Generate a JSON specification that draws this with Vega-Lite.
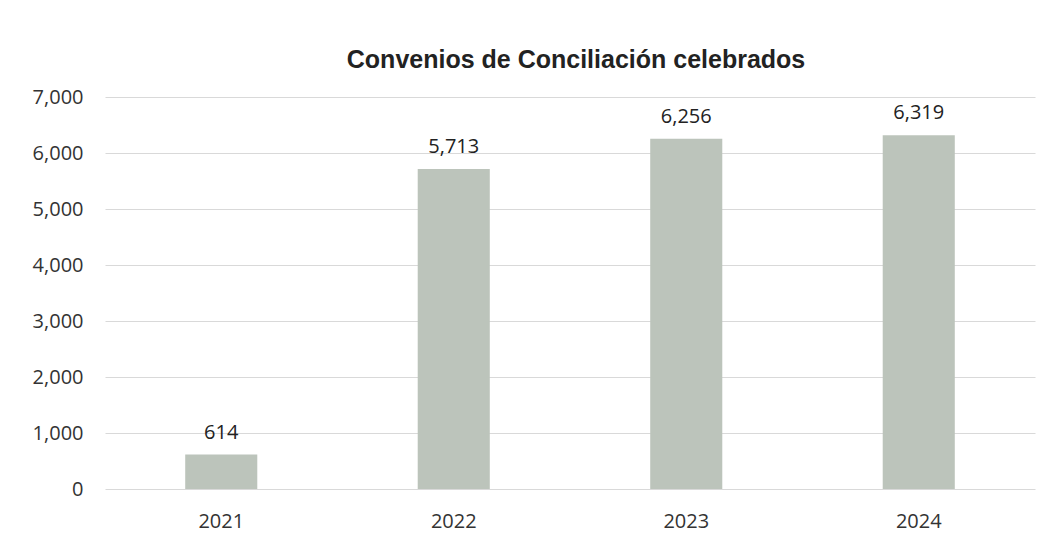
{
  "$schema": "https://vega.github.io/schema/vega-lite/v6.json",
  "autosize": {"type": "none"},
  "padding": {"left": 105, "top": 97, "right": 18, "bottom": 54},
  "width": 930,
  "height": 392,
  "background": "white",
  "title": {
    "text": "Convenios de Conciliación celebrados",
    "font": "Liberation Sans",
    "fontSize": 25,
    "fontWeight": "bold",
    "color": "#222222",
    "offset": 14,
    "anchor": "middle",
    "dx": 6
  },
  "data": {
    "values": [
      {"year": "2021", "value": 614},
      {"year": "2022", "value": 5713},
      {"year": "2023", "value": 6256},
      {"year": "2024", "value": 6319}
    ]
  },
  "encoding": {
    "x": {
      "field": "year",
      "type": "nominal",
      "sort": null,
      "scale": {"paddingInner": 0.69, "paddingOuter": 0.345},
      "axis": {
        "title": null,
        "labelAngle": 0,
        "ticks": false,
        "domain": false,
        "labelFont": "Open Sans",
        "labelFontSize": 20,
        "labelColor": "#333333",
        "labelPadding": 22
      }
    },
    "y": {
      "field": "value",
      "type": "quantitative",
      "scale": {"domain": [0, 7000]},
      "axis": {
        "title": null,
        "values": [0, 1000, 2000, 3000, 4000, 5000, 6000, 7000],
        "format": ",d",
        "ticks": false,
        "domain": false,
        "grid": true,
        "gridColor": "#d9d9d9",
        "labelFont": "Open Sans",
        "labelFontSize": 20,
        "labelColor": "#333333",
        "labelPadding": 22
      }
    }
  },
  "layer": [
    {"mark": {"type": "bar", "color": "#bcc4bb"}},
    {
      "mark": {
        "type": "text",
        "dy": -22,
        "font": "Open Sans",
        "fontSize": 20,
        "color": "#222222"
      },
      "encoding": {"text": {"field": "value", "type": "quantitative", "format": ",d"}}
    }
  ],
  "config": {"view": {"stroke": null}}
}
